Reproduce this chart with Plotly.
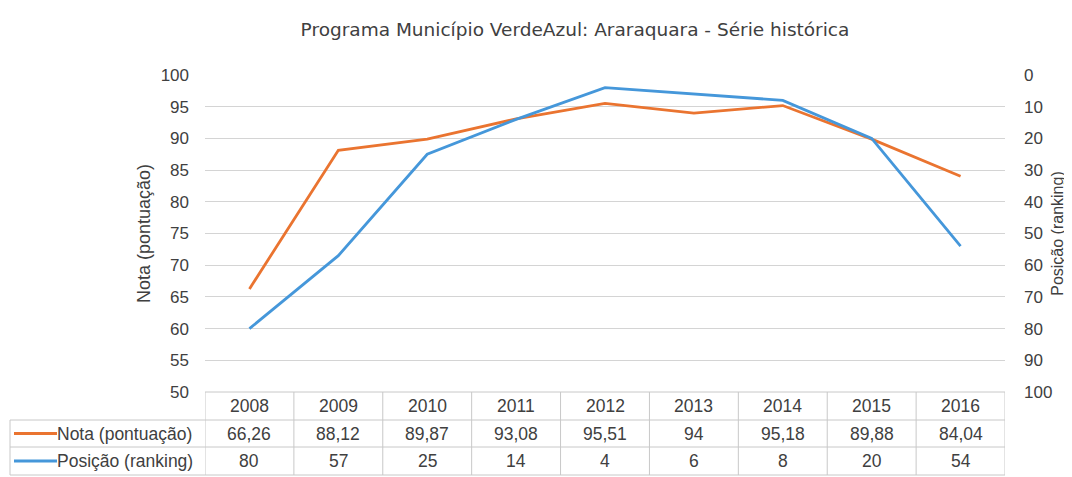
import plotly.graph_objects as go

years = ["2008", "2009", "2010", "2011", "2012", "2013", "2014", "2015", "2016"]
nota = [66.26, 88.12, 89.87, 93.08, 95.51, 94, 95.18, 89.88, 84.04]
posicao = [80, 57, 25, 14, 4, 6, 8, 20, 54]
series_names = ["Nota (pontuação)", "Posição (ranking)"]
left_ticks = [50, 55, 60, 65, 70, 75, 80, 85, 90, 95, 100]
right_ticks = [0, 10, 20, 30, 40, 50, 60, 70, 80, 90, 100]

ORANGE = "#EA7430"
BLUE = "#4597DA"
TXT = "#404040"
GRID = "#d4d4d4"
FONT = "Liberation Sans"
TFONT = "DejaVu Sans"

# the page body adds an 8px offset; work in reference pixels and shift
OFF = 8
W, H = 1072 - OFF, 477 - OFF
L, R, T, B = 205 - OFF, 1005 - OFF, 75 - OFF, 392 - OFF
PH = B - T


def py(p):
    return (B - (p - OFF)) / PH


def px(p):
    return ((p - OFF) - L) / (R - L)


def fmt(v):
    return f"{v:g}".replace(".", ",")


fig = go.Figure()
fig.add_trace(go.Scatter(x=list(range(len(years))), y=nota, mode="lines",
                         line=dict(color=ORANGE, width=2.8), name=series_names[0],
                         yaxis="y"))
fig.add_trace(go.Scatter(x=list(range(len(years))), y=posicao, mode="lines",
                         line=dict(color=BLUE, width=2.8), name=series_names[1],
                         yaxis="y2"))

shapes = []
annotations = []
row_y = [392, 420, 447, 475]  # reference pixel rows
line_style = dict(color="#c8c8c8", width=1)
shapes.append(dict(type="line", xref="paper", yref="paper", x0=0, x1=1,
                   y0=py(row_y[0]), y1=py(row_y[0]), line=line_style))
for ry in row_y[1:]:
    shapes.append(dict(type="line", xref="paper", yref="paper", x0=px(10), x1=1,
                       y0=py(ry), y1=py(ry), line=line_style))
n = len(years)
for i in range(n + 1):
    shapes.append(dict(type="line", xref="x", yref="paper", x0=i - 0.5, x1=i - 0.5,
                       y0=py(row_y[0]), y1=py(row_y[3]), line=line_style))
shapes.append(dict(type="line", xref="paper", yref="paper", x0=px(10), x1=px(10),
                   y0=py(row_y[1]), y1=py(row_y[3]), line=line_style))

rows = [years, [fmt(v) for v in nota], [fmt(v) for v in posicao]]
for r, vals in enumerate(rows):
    yc = py((row_y[r] + row_y[r + 1]) / 2)
    for i, v in enumerate(vals):
        annotations.append(dict(x=i, y=yc, xref="x", yref="paper", text=v,
                                xanchor="center", yanchor="middle",
                                showarrow=False, font=dict(size=17.5, color=TXT,
                                                          family=FONT)))

for k, (name, col) in enumerate(zip(series_names, [ORANGE, BLUE])):
    yc = py((row_y[k + 1] + row_y[k + 2]) / 2)
    shapes.append(dict(type="line", xref="paper", yref="paper", x0=px(14), x1=px(57),
                       y0=yc, y1=yc, line=dict(color=col, width=3)))
    annotations.append(dict(x=px(55), y=yc, xref="paper", yref="paper", text=name,
                            xanchor="left", yanchor="middle", showarrow=False,
                            font=dict(size=17.5, color=TXT, family=FONT)))

fig.update_layout(
    width=W, height=H,
    margin=dict(l=L, r=W - R, t=T, b=H - B, autoexpand=False),
    paper_bgcolor="white", plot_bgcolor="white",
    showlegend=False,
    font=dict(family=FONT, color=TXT, size=17),
    title=dict(text="Programa Município VerdeAzul: Araraquara - Série histórica",
               x=(575 - OFF) / W, xanchor="center", y=1 - (30 - OFF) / H,
               yanchor="middle",
               font=dict(size=18.5, color=TXT, family=TFONT)),
    xaxis=dict(range=[-0.5, n - 0.5], showticklabels=False, showgrid=False,
               zeroline=False, showline=False, ticks="", automargin=False),
    yaxis=dict(range=[50, 100], tickvals=left_ticks, showgrid=True, gridcolor=GRID,
               gridwidth=1, zeroline=False, showline=False, ticks="",
               automargin=False, ticklabelstandoff=15,
               tickfont=dict(size=17, color=TXT, family=FONT),
               title=dict(text="Nota (pontuação)", standoff=5,
                          font=dict(size=18, color=TXT, family=FONT))),
    yaxis2=dict(range=[100, 0], tickvals=right_ticks, overlaying="y", side="right",
                showgrid=False, zeroline=False, showline=False, ticks="",
                automargin=False, ticklabelstandoff=18,
                tickfont=dict(size=17, color=TXT, family=FONT),
                title=dict(text="Posição (ranking)", standoff=0,
                           font=dict(size=16, color=TXT, family=FONT))),
    shapes=shapes,
    annotations=annotations,
)

fig.write_html("out.html")
